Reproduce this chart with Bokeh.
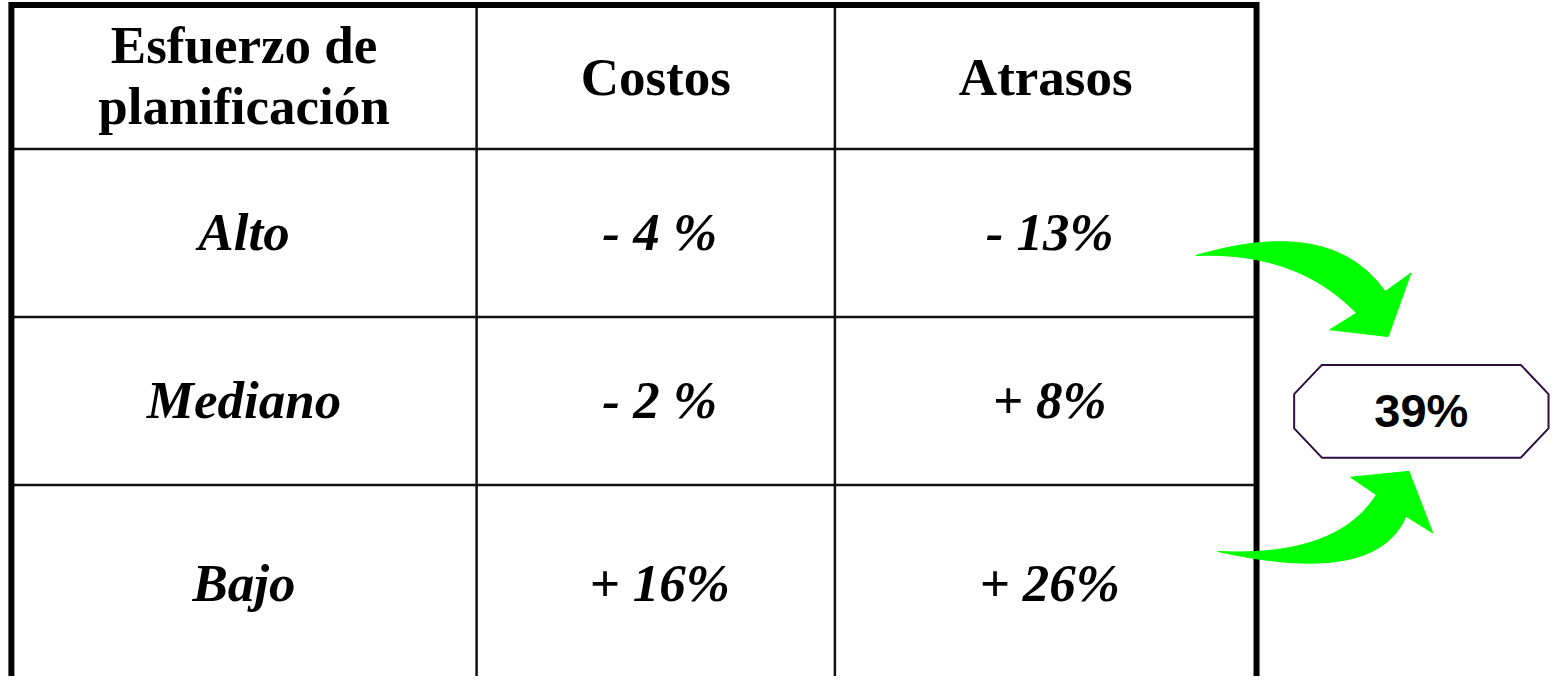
from bokeh.plotting import figure
from bokeh.models import Range1d
from bokeh.core.properties import value
from bokeh.embed import file_html
from bokeh.resources import INLINE

# ---------------- data ----------------
header_first = ["Esfuerzo de", "planificación"]
headers = ["Costos", "Atrasos"]
categories = ["Alto", "Mediano", "Bajo"]
costos = ["- 4 %", "- 2 %", "+ 16%"]
atrasos = ["- 13%", "+ 8%", "+ 26%"]
total = "39%"

# ---------------- layout ----------------
col_edges = [11, 481, 843, 1269]
row_edges = [4.5, 152, 324, 496, 700]
col_centers = [(col_edges[i] + col_edges[i + 1]) / 2 for i in range(3)]
row_centers = [(row_edges[i] + row_edges[i + 1]) / 2 for i in range(4)]
row_centers[3] = 598
BASE = -1.5  # text anchor offset from row centre

p = figure(width=1551, height=676, x_range=Range1d(0, 1567), y_range=Range1d(692, 0),
           output_backend="svg", toolbar_location=None, min_border=0)
p.axis.visible = False
p.grid.visible = False
p.outline_line_color = None
p.background_fill_color = "white"
p.border_fill_color = "white"

# inner lines
p.multi_line(xs=[[x, x] for x in col_edges[1:3]], ys=[[row_edges[0], row_edges[-1]]] * 2,
             line_color="#111111", line_width=2.5)
p.multi_line(xs=[[col_edges[0], col_edges[-1]]] * 3, ys=[[y, y] for y in row_edges[1:4]],
             line_color="#111111", line_width=2.5)
# outer border (open at bottom, beyond view)
p.line(x=[col_edges[0], col_edges[0], col_edges[-1], col_edges[-1]],
       y=[row_edges[-1], row_edges[0], row_edges[0], row_edges[-1]],
       line_color="black", line_width=6, line_join="miter")

serif = value("Liberation Serif")
FS = "53px"
# header
p.text(x=[col_centers[0]] * 2, y=[row_centers[0] - 31 + BASE, row_centers[0] + 31 + BASE],
       text=header_first, text_font=serif, text_font_style="bold", text_font_size=FS,
       text_align="center", text_baseline="alphabetic", text_color="black")
p.text(x=col_centers[1:], y=[row_centers[0] + BASE + 2] * 2, text=headers,
       text_font=serif, text_font_style="bold", text_font_size=FS,
       text_align="center", text_baseline="alphabetic", text_color="black")
# body
for ci, col in enumerate([categories, costos, atrasos]):
    p.text(x=[col_centers[ci] + (4 if ci else 0)] * 3, y=[c + BASE for c in row_centers[1:]],
           text=col, text_font=serif, text_font_style="bold italic", text_font_size=FS,
           text_align="center", text_baseline="alphabetic", text_color="black")


# ---------------- arrows ----------------
def qbez(p0, c, p1, n=30):
    pts = []
    for i in range(n + 1):
        t = i / n
        a, b, d = (1 - t) ** 2, 2 * (1 - t) * t, t * t
        pts.append((a * p0[0] + b * c[0] + d * p1[0], a * p0[1] + b * c[1] + d * p1[1]))
    return pts


def arrow(tail, c1, e1, barb1, tip, barb2, notch, c2):
    pts = qbez(tail, c1, e1) + [barb1, tip, barb2] + qbez(notch, c2, tail)
    return [q[0] for q in pts], [q[1] for q in pts]


ax1, ay1 = arrow((1208, 261), (1345, 220), (1399, 298), (1425, 279), (1402, 344),
                 (1343, 337), (1370, 320), (1310, 257))
ax2, ay2 = arrow((1230, 564), (1390, 600), (1420, 528), (1447, 545), (1423, 482),
                 (1364, 488), (1390, 506), (1350, 570))
p.patches(xs=[ax1, ax2], ys=[ay1, ay2], fill_color="#00FF00", line_color="#00FF00", line_width=1)

# octagon with total
bx0, bx1, by0, by1, cx, cy = 1307, 1564, 373, 468, 28, 30
p.patch(x=[bx0 + cx, bx1 - cx, bx1, bx1, bx1 - cx, bx0 + cx, bx0, bx0],
        y=[by0, by0, by0 + cy, by1 - cy, by1, by1, by1 - cy, by0 + cy],
        fill_color="white", line_color="#2D0F3F", line_width=2)
p.text(x=[(bx0 + bx1) / 2], y=[420], text=[total], text_font=value("Liberation Sans"),
       text_font_style="bold", text_font_size="47px", text_align="center",
       text_baseline="alphabetic", text_color="black")

open("out.html", "w").write(file_html(p, INLINE))
